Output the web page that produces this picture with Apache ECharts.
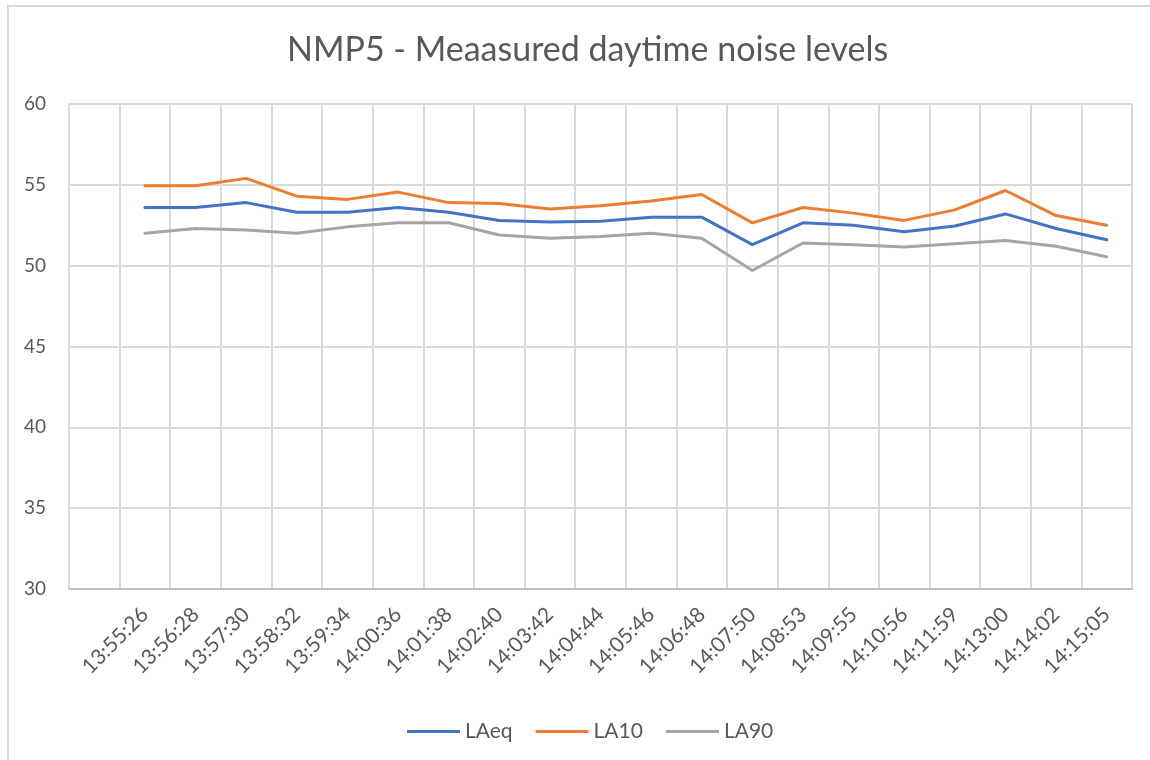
<!DOCTYPE html>
<html>
<head>
<meta charset="utf-8">
<script src="https://cdn.jsdelivr.net/npm/echarts@6/dist/echarts.min.js"></script>
<style>
  html, body { margin: 0; padding: 0; background: #fff; }
  #chart { width: 1150px; height: 760px; }
</style>
</head>
<body>
<div id="chart"></div>
<script>
// first category is blank in the original sheet
const times = ['', '13:55:26', '13:56:28', '13:57:30', '13:58:32', '13:59:34', '14:00:36', '14:01:38',
  '14:02:40', '14:03:42', '14:04:44', '14:05:46', '14:06:48', '14:07:50', '14:08:53', '14:09:55',
  '14:10:56', '14:11:59', '14:13:00', '14:14:02', '14:15:05']

const laeq = [null, 53.6, 53.6, 53.9, 53.3, 53.3, 53.6, 53.3, 52.8, 52.7, 52.75, 53.0, 53.0, 51.3,
  52.65, 52.5, 52.1, 52.45, 53.2, 52.3, 51.6]
const la10 = [null, 54.95, 54.95, 55.4, 54.3, 54.1, 54.55, 53.9, 53.85, 53.5, 53.7, 54.0, 54.4, 52.65,
  53.6, 53.25, 52.8, 53.45, 54.65, 53.1, 52.5]
const la90 = [null, 52.0, 52.3, 52.2, 52.0, 52.4, 52.65, 52.65, 51.9, 51.7, 51.8, 52.0, 51.7, 49.7,
  51.4, 51.3, 51.15, 51.35, 51.55, 51.2, 50.55]

const yTicks = { min: 30, max: 60, step: 5 }

const chart = echarts.init(document.getElementById('chart'))
const font = 'Lato, "Open Sans", sans-serif'

function mkSeries(name, data, color) {
  return {
    name: name,
    type: 'line',
    data: data,
    showSymbol: false,
    symbol: 'none',
    lineStyle: { color: color, width: 3, cap: 'round', join: 'round' },
    itemStyle: { color: color }
  }
}

chart.setOption({
  animation: false,
  textStyle: { fontFamily: font },
  graphic: [{
    type: 'rect',
    shape: { x: 8, y: 6, width: 1160, height: 780 },
    style: { fill: 'none', stroke: '#d9d9d9', lineWidth: 2 },
    silent: true
  }],
  title: {
    text: 'NMP5 - Meaasured daytime noise levels',
    left: 282,
    top: 28,
    textStyle: { color: '#595959', fontSize: 34, fontWeight: 'normal', fontFamily: font }
  },
  legend: {
    top: 716,
    left: 402,
    icon: 'rect',
    itemWidth: 53,
    itemHeight: 3,
    itemGap: 23,
    textStyle: { color: '#595959', fontSize: 21, fontFamily: font },
    data: ['LAeq', 'LA10', 'LA90']
  },
  grid: { left: 69, right: 18, top: 104, bottom: 171, containLabel: false },
  xAxis: {
    type: 'category',
    data: times,
    boundaryGap: true,
    axisLine: { lineStyle: { color: '#bfbfbf', width: 2 } },
    axisTick: { show: false },
    splitLine: { show: true, interval: 0, lineStyle: { color: '#d9d9d9', width: 2 } },
    axisLabel: { interval: 0, rotate: 45, margin: 22, color: '#595959', fontSize: 21, fontFamily: font }
  },
  yAxis: {
    type: 'value',
    min: yTicks.min,
    max: yTicks.max,
    interval: yTicks.step,
    axisLine: { show: false },
    axisTick: { show: false },
    splitLine: { lineStyle: { color: '#d9d9d9', width: 2 } },
    axisLabel: { color: '#595959', fontSize: 19, margin: 23, fontFamily: font }
  },
  series: [
    mkSeries('LAeq', laeq, '#4472C4'),
    mkSeries('LA10', la10, '#ED7D31'),
    mkSeries('LA90', la90, '#A5A5A5')
  ]
})

window.addEventListener('resize', () => {
  chart.resize()
})
</script>
</body>
</html>
